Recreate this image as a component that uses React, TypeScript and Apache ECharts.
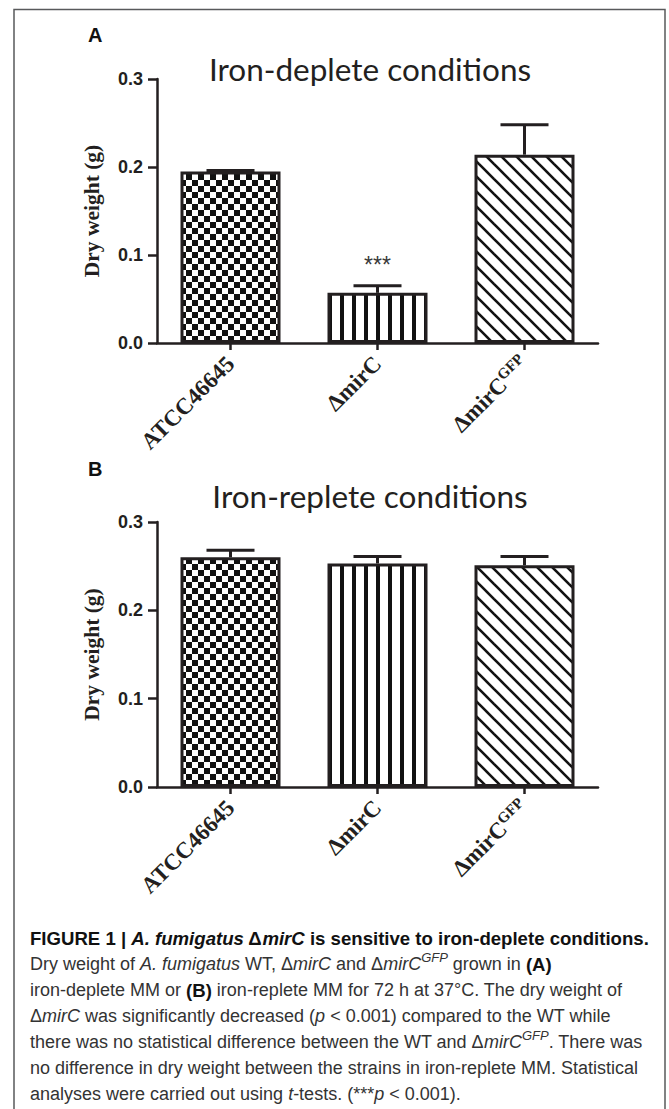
import React, { useEffect, useRef } from "react";
import * as echarts from "echarts";

// ---------- data ----------
const categories = ["ATCC46645", "ΔmirC", "ΔmirC"];
const categorySuperscripts = ["", "", "GFP"];
const depleteMeans = [0.195, 0.057, 0.214];
const depleteErrors = [0.001, 0.008, 0.034];
const depleteSignificance = ["", "***", ""];
const repleteMeans = [0.26, 0.253, 0.251];
const repleteErrors = [0.008, 0.008, 0.01];
const repleteSignificance = ["", "", ""];
const yMin = 0;
const yMax = 0.3;
const yStep = 0.1;
const titleA = "Iron-deplete conditions";
const titleB = "Iron-replete conditions";
const yAxisName = "Dry weight (g)";

const INK = "#231f20";

function makePattern(kind: string) {
  const c = document.createElement("canvas");
  const ctx = c.getContext("2d") as CanvasRenderingContext2D;
  if (kind === "checker") {
    c.width = 12; c.height = 12;
    ctx.fillStyle = "#fff"; ctx.fillRect(0, 0, 12, 12);
    ctx.fillStyle = "#111"; ctx.fillRect(0, 0, 6, 6); ctx.fillRect(6, 6, 6, 6);
  } else if (kind === "vstripe") {
    c.width = 12; c.height = 12;
    ctx.fillStyle = "#fff"; ctx.fillRect(0, 0, 12, 12);
    ctx.fillStyle = "#111"; ctx.fillRect(4, 0, 4, 12);
  } else {
    c.width = 15; c.height = 15;
    ctx.fillStyle = "#fff"; ctx.fillRect(0, 0, 15, 15);
    ctx.strokeStyle = "#111"; ctx.lineWidth = 2.6;
    for (const o of [-15, 0, 15]) {
      ctx.beginPath(); ctx.moveTo(o - 2, -2); ctx.lineTo(o + 17, 17); ctx.stroke();
    }
  }
  return { image: c, repeat: "repeat", imageWidth: c.width, imageHeight: c.height } as any;
}

export default function App() {
  const ref = useRef<HTMLDivElement>(null);
  useEffect(() => {
    if (!ref.current) return;
    const chart = echarts.init(ref.current, undefined, { renderer: "svg" });
    const patterns = [makePattern("checker"), makePattern("vstripe"), makePattern("diag")];

    const xLabelFormatter = (v: string, i: number) =>
      `{b|${v}}` + (categorySuperscripts[i] ? `{s|${categorySuperscripts[i]}}` : "");

    const makeX = (gi: number) => ({
      type: "category",
      gridIndex: gi,
      data: categories,
      axisLine: { lineStyle: { color: INK, width: 2.5 } },
      axisTick: { show: true, alignWithLabel: true, length: 7, lineStyle: { color: INK, width: 2.5 } },
      axisLabel: {
        rotate: 45,
        margin: 17,
        formatter: xLabelFormatter,
        rich: {
          b: { fontFamily: "Liberation Serif", fontWeight: "bold", fontSize: 23, color: INK, lineHeight: 26 },
          s: { fontFamily: "Liberation Serif", fontWeight: "bold", fontSize: 15, color: INK, lineHeight: 16, verticalAlign: "top" },
        },
      },
    });
    const makeY = (gi: number) => ({
      type: "value",
      gridIndex: gi,
      min: yMin,
      max: yMax,
      interval: yStep,
      name: yAxisName,
      nameLocation: "middle",
      nameRotate: 90,
      nameGap: 54,
      nameTextStyle: { fontFamily: "Liberation Serif", fontWeight: "bold", fontSize: 21.5, color: INK },
      splitLine: { show: false },
      axisLine: { show: true, lineStyle: { color: INK, width: 2.5 } },
      axisTick: { show: true, length: 9, lineStyle: { color: INK, width: 2.5 } },
      axisLabel: {
        margin: 14,
        formatter: (v: number) => v.toFixed(1),
        fontFamily: "Liberation Sans",
        fontWeight: "bold",
        fontSize: 18,
        color: INK,
      },
    });

    const barData = (means: number[]) =>
      means.map((m, i) => ({ value: m, itemStyle: { color: patterns[i] } }));

    const errData = (means: number[], errs: number[]) => means.map((m, i) => [i, m, errs[i]]);

    const errSeries = (gi: number, means: number[], errs: number[], sig: string[]) => ({
      type: "custom",
      xAxisIndex: gi,
      yAxisIndex: gi,
      z: 5,
      encode: { x: 0, y: 1 },
      data: errData(means, errs),
      renderItem: (params: any, api: any) => {
        const x = api.value(0);
        const m = api.value(1);
        const e = api.value(2);
        const base = api.coord([x, m]);
        const top = api.coord([x, m + e]);
        const half = 24;
        const children: any[] = [
          { type: "line", shape: { x1: base[0], y1: base[1], x2: top[0], y2: top[1] }, style: { stroke: INK, lineWidth: 3 } },
          { type: "line", shape: { x1: top[0] - half, y1: top[1], x2: top[0] + half, y2: top[1] }, style: { stroke: INK, lineWidth: 3 } },
        ];
        const s = sig[params.dataIndex];
        if (s) {
          children.push({
            type: "text",
            x: top[0],
            y: top[1] - 9,
            style: { text: s, fontFamily: "Liberation Sans", fontSize: 23, fill: "#3a3a3a", align: "center", verticalAlign: "bottom" },
          });
        }
        return { type: "group", children };
      },
    });

    const cap = { fontFamily: "Liberation Sans", fontSize: 18, lineHeight: 26, fill: "#333" };
    const rich: any = {
      r: { ...cap },
      i: { ...cap, fontStyle: "italic" },
      b: { ...cap, fontSize: 18.6, fontWeight: "bold", fill: "#111" },
      bi: { ...cap, fontSize: 18.6, fontWeight: "bold", fontStyle: "italic", fill: "#111" },
      s: { ...cap, fontStyle: "italic", fontSize: 13, lineHeight: 14, verticalAlign: "top" },
    };
    const captionLines = [
      "{b|FIGURE 1 | }{bi|A. fumigatus}{b| Δ}{bi|mirC}{b| is sensitive to iron-deplete conditions.}",
      "{r|Dry weight of }{i|A. fumigatus}{r| WT, Δ}{i|mirC}{r| and Δ}{i|mirC}{s|GFP}{r| grown in }{b|(A)}",
      "{r|iron-deplete MM or }{b|(B)}{r| iron-replete MM for 72 h at 37°C. The dry weight of}",
      "{r|Δ}{i|mirC}{r| was significantly decreased (}{i|p}{r| < 0.001) compared to the WT while}",
      "{r|there was no statistical difference between the WT and Δ}{i|mirC}{s|GFP}{r|. There was}",
      "{r|no difference in dry weight between the strains in iron-replete MM. Statistical}",
      "{r|analyses were carried out using }{i|t}{r|-tests. (***}{i|p}{r| < 0.001).}",
    ];

    chart.setOption({
      animation: false,
      backgroundColor: "#fff",
      grid: [
        { left: 157, top: 79, width: 441, height: 264 },
        { left: 157, top: 522, width: 441, height: 265 },
      ],
      xAxis: [makeX(0), makeX(1)],
      yAxis: [makeY(0), makeY(1)],
      series: [
        {
          type: "bar", xAxisIndex: 0, yAxisIndex: 0, barWidth: 100,
          itemStyle: { borderColor: INK, borderWidth: 3 },
          data: barData(depleteMeans),
        },
        {
          type: "bar", xAxisIndex: 1, yAxisIndex: 1, barWidth: 100,
          itemStyle: { borderColor: INK, borderWidth: 3 },
          data: barData(repleteMeans),
        },
        errSeries(0, depleteMeans, depleteErrors, depleteSignificance),
        errSeries(1, repleteMeans, repleteErrors, repleteSignificance),
      ],
      graphic: [
        { type: "polyline", shape: { points: [[14, 1109], [14, 9.5], [665, 9.5], [665, 1109]] }, style: { stroke: "#58595b", lineWidth: 1.5, fill: "none" } },
        { type: "text", x: 88, y: 35, style: { text: "A", fontFamily: "Liberation Sans", fontWeight: "bold", fontSize: 20, fill: "#111", verticalAlign: "middle" } },
        { type: "text", x: 88, y: 469, style: { text: "B", fontFamily: "Liberation Sans", fontWeight: "bold", fontSize: 20, fill: "#111", verticalAlign: "middle" } },
        { type: "text", x: 370, y: 69, style: { text: titleA, fontFamily: "Lato", fontSize: 31.5, fill: INK, align: "center", verticalAlign: "middle" } },
        { type: "text", x: 370, y: 496, style: { text: titleB, fontFamily: "Lato", fontSize: 31.5, fill: INK, align: "center", verticalAlign: "middle" } },
        { type: "text", x: 30, y: 925, style: { text: captionLines.join("\n"), rich, ...cap, verticalAlign: "top" } },
      ],
    });
    return () => chart.dispose();
  }, []);
  return <div ref={ref} style={{ position: "absolute", left: 0, top: 0, width: 669, height: 1109 }} />;
}
